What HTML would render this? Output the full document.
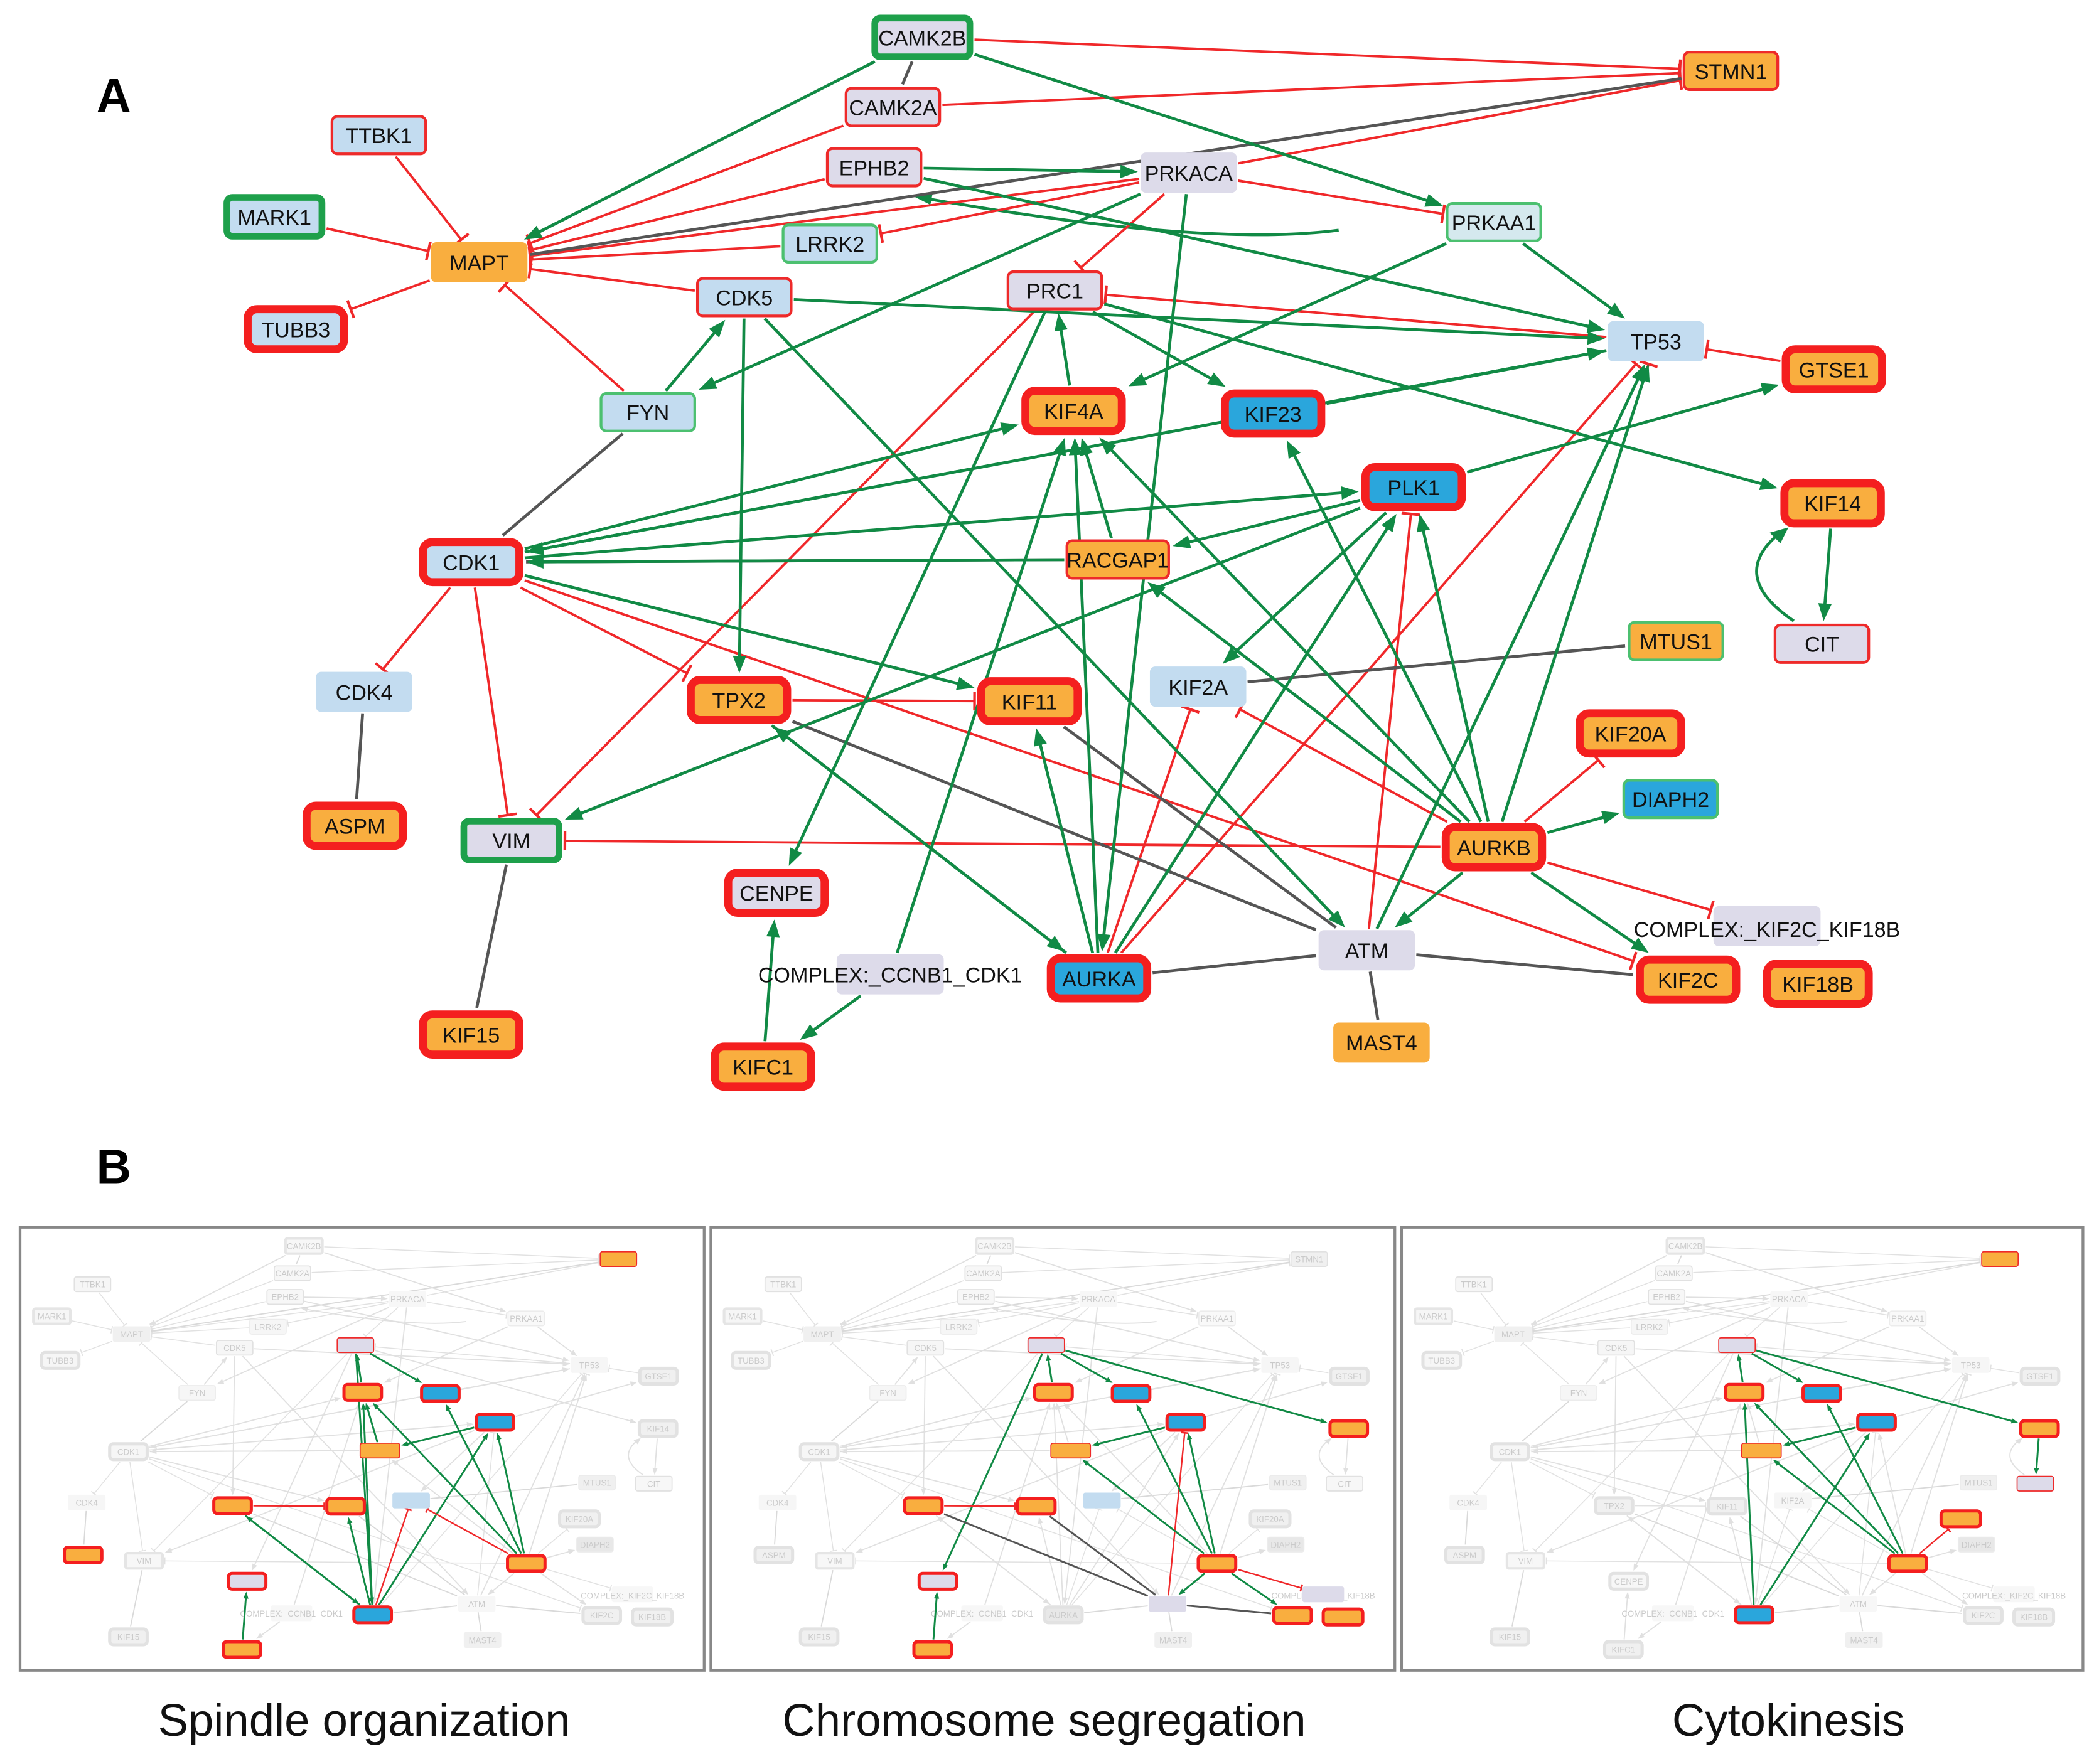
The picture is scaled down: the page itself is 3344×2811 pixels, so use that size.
<!DOCTYPE html>
<html><head><meta charset="utf-8"><style>
html,body{margin:0;padding:0;background:#fff;}
svg{display:block;}
text{font-family:"Liberation Sans",Arial,sans-serif;}
</style></head><body>
<svg id="s" width="3344" height="2811" viewBox="0 0 1568 1318" preserveAspectRatio="none" xmlns="http://www.w3.org/2000/svg">
<defs>
<filter id="gray"><feColorMatrix type="saturate" values="0"/></filter>
</defs>
<rect width="1568" height="1318" fill="#fff"/>
<text x="72" y="84" font-size="36" font-weight="bold">A</text>
<text x="72" y="884" font-size="36" font-weight="bold">B</text>
<g id="net">
<g id="edges" fill="none">
<path d="M1000,172 Q900,185 690,148" stroke="#118a45" stroke-width="2.2" fill="none"/>
<path d="M1340,464 Q1290,430 1330,398" stroke="#118a45" stroke-width="2.2" fill="none"/>
<polygon points="683,147 697,143 695,153" fill="#118a45"/>
<polygon points="1336,394 1322,398 1330,406" fill="#118a45"/>
</g>
<g id="rects"></g>
<g id="labels" font-size="16" text-anchor="middle" fill="#111">
<text x="689" y="34">CAMK2B</text>
<text x="667" y="86">CAMK2A</text>
<text x="1293" y="59">STMN1</text>
<text x="283" y="107">TTBK1</text>
<text x="653" y="131">EPHB2</text>
<text x="888" y="135">PRKACA</text>
<text x="205" y="168">MARK1</text>
<text x="1116" y="172">PRKAA1</text>
<text x="620" y="188">LRRK2</text>
<text x="358" y="202">MAPT</text>
<text x="556" y="228">CDK5</text>
<text x="788" y="223">PRC1</text>
<text x="221" y="252">TUBB3</text>
<text x="1237" y="261">TP53</text>
<text x="1370" y="282">GTSE1</text>
<text x="484" y="314">FYN</text>
<text x="802" y="313">KIF4A</text>
<text x="951" y="315">KIF23</text>
<text x="1056" y="370">PLK1</text>
<text x="1369" y="382">KIF14</text>
<text x="352" y="426">CDK1</text>
<text x="835" y="424">RACGAP1</text>
<text x="1361" y="487">CIT</text>
<text x="1252" y="485">MTUS1</text>
<text x="272" y="523">CDK4</text>
<text x="895" y="519">KIF2A</text>
<text x="552" y="529">TPX2</text>
<text x="769" y="530">KIF11</text>
<text x="1218" y="554">KIF20A</text>
<text x="1248" y="603">DIAPH2</text>
<text x="265" y="623">ASPM</text>
<text x="382" y="634">VIM</text>
<text x="1116" y="639">AURKB</text>
<text x="580" y="673">CENPE</text>
<text x="1320" y="700">COMPLEX:_KIF2C_KIF18B</text>
<text x="1021" y="716">ATM</text>
<text x="665" y="734">COMPLEX:_CCNB1_CDK1</text>
<text x="821" y="737">AURKA</text>
<text x="1261" y="738">KIF2C</text>
<text x="1358" y="741">KIF18B</text>
<text x="352" y="779">KIF15</text>
<text x="1032" y="785">MAST4</text>
<text x="570" y="803">KIFC1</text>
</g>
</g>
<g fill="none" stroke="#888" stroke-width="2">
<rect x="15" y="917" width="511" height="331"/>
<rect x="531" y="917" width="511" height="331"/>
<rect x="1047" y="917" width="509" height="331"/>
</g>
<use href="#net" transform="translate(-41,920) scale(0.389,0.392)" filter="url(#gray)" opacity="0.22"/>
<use href="#net" transform="translate(475,920) scale(0.389,0.392)" filter="url(#gray)" opacity="0.22"/>
<use href="#net" transform="translate(991,920) scale(0.389,0.392)" filter="url(#gray)" opacity="0.22"/>
<g id="h1" transform="translate(-41,920) scale(0.389,0.392)"></g>
<g id="h2" transform="translate(475,920) scale(0.389,0.392)"></g>
<g id="h3" transform="translate(991,920) scale(0.389,0.392)"></g>
<g font-size="34" text-anchor="middle" fill="#111">
<text x="272" y="1297">Spindle organization</text>
<text x="780" y="1297">Chromosome segregation</text>
<text x="1336" y="1297">Cytokinesis</text>
</g>
</svg>
<script>
(function(){
var NS="http://www.w3.org/2000/svg";
var C={lb:"#c3dcf0",lav:"#dddbea",or:"#f9ae3f",bl:"#2aa6dc",pg:"#d5e9ee"};
var N={
CAMK2B:[689,28,'lav','G'],CAMK2A:[667,80,'lav','r'],STMN1:[1293,53,'or','r'],TTBK1:[283,101,'lb','r'],
EPHB2:[653,125,'lav','r'],PRKACA:[888,129,'lav',''],MARK1:[205,162,'lb','G'],PRKAA1:[1116,166,'pg','g'],
LRRK2:[620,182,'lb','g'],MAPT:[358,196,'or',''],CDK5:[556,222,'lb','r'],PRC1:[788,217,'lav','r'],
TUBB3:[221,246,'lb','T'],TP53:[1237,255,'lb',''],GTSE1:[1370,276,'or','T'],FYN:[484,308,'lb','g'],
KIF4A:[802,307,'or','T'],KIF23:[951,309,'bl','T'],PLK1:[1056,364,'bl','T'],KIF14:[1369,376,'or','T'],
CDK1:[352,420,'lb','T'],RACGAP1:[835,418,'or','r'],CIT:[1361,481,'lav','r'],MTUS1:[1252,479,'or','g'],
CDK4:[272,517,'lb',''],KIF2A:[895,513,'lb',''],TPX2:[552,523,'or','T'],KIF11:[769,524,'or','T'],
KIF20A:[1218,548,'or','T'],DIAPH2:[1248,597,'bl','g'],ASPM:[265,617,'or','T'],VIM:[382,628,'lav','G'],
AURKB:[1116,633,'or','T'],CENPE:[580,667,'lav','T'],CX2:[1320,692,'lav',''],ATM:[1021,710,'lav',''],
CX1:[665,728,'lav',''],AURKA:[821,731,'bl','T'],KIF2C:[1261,732,'or','T'],KIF18B:[1358,735,'or','T'],
KIF15:[352,773,'or','T'],MAST4:[1032,779,'or',''],KIFC1:[570,797,'or','T']};
var W={RACGAP1:78,CX1:80,CX2:80,KIF18B:76,KIF20A:76};
function dim(k){var n=N[k];var w=W[k]||72,h=30;if(n[3]=='T'){w+=6;h+=6;}else if(n[3]=='G'){w+=4;h+=4;}return [w,h];}
var E=[
['CAMK2B','STMN1','r'],['CAMK2A','STMN1','r'],['PRKACA','STMN1','r'],['CAMK2A','MAPT','r'],['EPHB2','MAPT','r'],
['PRKACA','MAPT','r'],['LRRK2','MAPT','r'],['CDK5','MAPT','r'],['TTBK1','MAPT','r'],['MARK1','MAPT','r'],
['MAPT','TUBB3','r'],['FYN','MAPT','r'],['PRKACA','LRRK2','r'],['PRKACA','PRKAA1','r'],['PRKACA','PRC1','r'],
['TP53','PRC1','r'],['GTSE1','TP53','r'],['CDK1','CDK4','r'],['CDK1','VIM','r'],['CDK1','TPX2','r'],
['CDK1','KIF2C','r'],['PRC1','VIM','r'],['TPX2','KIF11','r'],['AURKB','VIM','r'],['AURKB','KIF2A','r'],
['AURKB','KIF20A','r'],['AURKB','CX2','r'],['AURKB','TP53','r'],['AURKA','KIF2A','r'],['AURKA','TP53','r'],['ATM','PLK1','r'],
['STMN1','MAPT','k'],['CAMK2B','CAMK2A','k'],['FYN','CDK1','k'],['CDK4','ASPM','k'],['VIM','KIF15','k'],
['KIF2A','MTUS1','k'],['TPX2','ATM','k'],['KIF11','ATM','k'],['AURKA','ATM','k'],['ATM','KIF2C','k'],
['ATM','MAST4','k'],['RACGAP1','CDK1','k'],
['CAMK2B','MAPT','g'],['CAMK2B','PRKAA1','g'],['EPHB2','PRKACA','g'],['EPHB2','TP53','g'],['PRKAA1','TP53','g'],
['PRKAA1','KIF4A','g'],['PRKACA','FYN','g'],['PRKACA','AURKA','g'],['FYN','CDK5','g'],['CDK5','TP53','g'],
['CDK5','TPX2','g'],['CDK5','ATM','g'],['PRC1','KIF23','g'],['KIF4A','PRC1','g'],['PRC1','KIF14','g'],
['PRC1','CENPE','g'],['CDK1','KIF4A','g'],['CDK1','PLK1','g'],['TP53','CDK1','g'],['KIF23','TP53','g'],
['RACGAP1','CDK1','g'],['PLK1','RACGAP1','g'],['PLK1','KIF2A','g'],['PLK1','GTSE1','g'],['AURKB','KIF23','g'],
['AURKB','KIF4A','g'],['AURKB','RACGAP1','g'],['AURKB','DIAPH2','g'],['AURKB','KIF2C','g'],['AURKB','ATM','g'],
['AURKA','TPX2','g'],['TPX2','AURKA','g'],['AURKA','KIF11','g'],['AURKA','KIF4A','g'],['AURKA','PLK1','g'],
['AURKB','PLK1','g'],['ATM','TP53','g'],['AURKB','TP53','g'],['CX1','KIF4A','g'],['CX1','KIFC1','g'],
['KIFC1','CENPE','g'],['KIF14','CIT','g'],['PLK1','VIM','g'],['CDK1','KIF11','g'],['RACGAP1','KIF4A','g'],['CDK1','TP53','g']];
function el(t,a,p){var e=document.createElementNS(NS,t);for(var k in a)e.setAttribute(k,a[k]);p.appendChild(e);return e;}
function clip(cx,cy,dx,dy,w,h){var t=Math.min(Math.abs(dx)>0.01?(w/2)/Math.abs(dx):1e9,Math.abs(dy)>0.01?(h/2)/Math.abs(dy):1e9);return [cx+dx*t,cy+dy*t];}
function drawEdges(list,eg,scale){
list.forEach(function(e){
var a=N[e[0]],b=N[e[1]];var da=dim(e[0]),db=dim(e[1]);
var dx=b[0]-a[0],dy=b[1]-a[1],L=Math.sqrt(dx*dx+dy*dy),ux=dx/L,uy=dy/L;
var p=clip(a[0],a[1],dx,dy,da[0]+2,da[1]+2),q=clip(b[0],b[1],-dx,-dy,db[0]+4,db[1]+4);
var col=e[2]=='g'?'#118a45':(e[2]=='r'?'#f0282a':'#555');
var sw=(e[2]=='r'?1.8:2.2)*scale;
var ex=q[0],ey=q[1];
if(e[2]=='g'){ex-=ux*10;ey-=uy*10;}
el('line',{x1:p[0],y1:p[1],x2:ex,y2:ey,stroke:col,'stroke-width':sw},eg);
if(e[2]=='g'){
var bx=q[0]-ux*13,by=q[1]-uy*13;
el('polygon',{points:q[0]+','+q[1]+' '+(bx-uy*5)+','+(by+ux*5)+' '+(bx+uy*5)+','+(by-ux*5),fill:col},eg);
}else if(e[2]=='r'){
el('line',{x1:q[0]-uy*7,y1:q[1]+ux*7,x2:q[0]+uy*7,y2:q[1]-ux*7,stroke:col,'stroke-width':2*scale},eg);
}
});}
function drawNodes(keys,rg){
keys.forEach(function(k){var n=N[k],d=dim(k);var st=n[3],stroke='none',sw=0;
if(st=='T'){stroke='#f41f1f';sw=6;}else if(st=='r'){stroke='#ee2a2a';sw=2;}else if(st=='G'){stroke='#1ea04b';sw=5;}else if(st=='g'){stroke='#4cc070';sw=2;}
var w=d[0]-sw,h=d[1]-sw;
el('rect',{x:n[0]-w/2,y:n[1]-h/2,width:w,height:h,rx:st=='T'?7:4,fill:C[n[2]],stroke:stroke,'stroke-width':sw},rg);
});}
drawEdges(E,document.getElementById('edges'),1);
drawNodes(Object.keys(N),document.getElementById('rects'));
var H=[
{n:['STMN1','PRC1','KIF4A','KIF23','PLK1','RACGAP1','TPX2','KIF11','KIF2A','AURKB','AURKA','CENPE','KIFC1','ASPM'],
 e:[['PRC1','KIF23','g'],['KIF4A','PRC1','g'],['AURKA','TPX2','g'],['TPX2','AURKA','g'],['TPX2','KIF11','r'],['AURKA','KIF11','g'],['AURKA','KIF4A','g'],['RACGAP1','KIF4A','g'],['PLK1','RACGAP1','g'],['AURKB','PLK1','g'],['AURKB','KIF23','g'],['AURKA','PLK1','g'],['AURKA','KIF2A','r'],['AURKB','KIF2A','r'],['KIFC1','CENPE','g'],['PRC1','AURKA','g'],['AURKB','KIF4A','g']]},
{n:['PRC1','KIF4A','KIF23','PLK1','KIF14','RACGAP1','TPX2','KIF11','KIF2A','AURKB','ATM','KIF2C','KIF18B','CX2','CENPE','KIFC1'],
 e:[['PRC1','KIF14','g'],['PRC1','CENPE','g'],['PRC1','KIF23','g'],['KIF4A','PRC1','g'],['AURKB','KIF2C','g'],['ATM','KIF2C','k'],['TPX2','ATM','k'],['KIF11','ATM','k'],['ATM','PLK1','r'],['AURKB','PLK1','g'],['TPX2','KIF11','r'],['AURKB','RACGAP1','g'],['AURKB','KIF23','g'],['AURKB','CX2','r'],['PLK1','RACGAP1','g'],['KIFC1','CENPE','g'],['AURKB','ATM','g']]},
{n:['STMN1','PRC1','KIF4A','KIF23','PLK1','KIF14','CIT','RACGAP1','KIF20A','AURKB','AURKA'],
 e:[['PRC1','KIF14','g'],['PRC1','KIF23','g'],['KIF4A','PRC1','g'],['AURKB','KIF20A','r'],['AURKB','KIF23','g'],['AURKB','RACGAP1','g'],['AURKA','KIF4A','g'],['AURKA','PLK1','g'],['KIF14','CIT','g'],['PLK1','RACGAP1','g'],['AURKB','KIF4A','g']]}];
H.forEach(function(h,i){var g=document.getElementById('h'+(i+1));drawEdges(h.e,g,1.6);drawNodes(h.n,g);});
})();
</script>
</body></html>
